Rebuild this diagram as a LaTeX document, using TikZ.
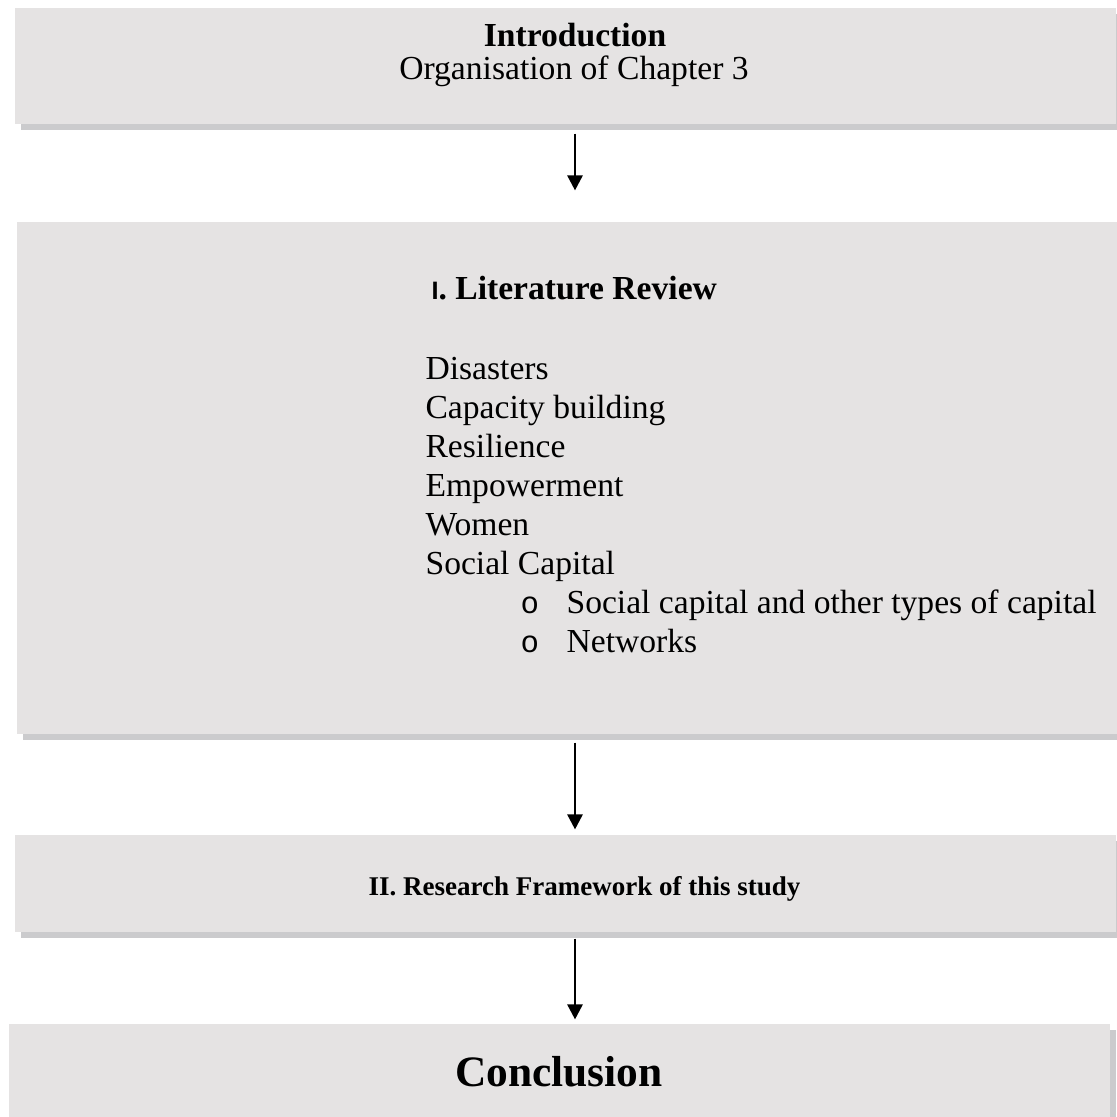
\documentclass[tikz,border=0pt]{standalone}
\usepackage{fontspec}
\setmainfont{Liberation Serif}
\newfontfamily\numfont{Liberation Sans}
\newfontfamily\bulletfont{Liberation Mono}
\usetikzlibrary{shadows,arrows.meta}
\newcommand\pxu{0.3571pt}
\definecolor{boxgray}{HTML}{E5E3E3}
\definecolor{shadowgray}{HTML}{CBCBCD}
\tikzset{
  panel/.style={draw=none, fill=boxgray, minimum width=1101*\pxu, inner sep=0pt,
    drop shadow={shadow xshift=6*\pxu, shadow yshift=-6*\pxu, fill=shadowgray, opacity=1}},
  txt/.style={anchor=base, inner sep=0pt, font=\fontsize{12pt}{13.9pt}\selectfont},
  btxt/.style={txt, font=\fontsize{12pt}{13.9pt}\selectfont\bfseries},
  item/.style={txt, anchor=base west},
  flow/.style={-{Triangle[length=15*\pxu, width=15*\pxu]}, line width=2.6*\pxu, black}
}
\begin{document}
\begin{tikzpicture}[x=\pxu, y=-\pxu]
\useasboundingbox (0,0) rectangle (1117,1117);
\clip (0,0) rectangle (1117,1117);

% panels
\node[panel, minimum height=116*\pxu] (intro) at (565.5,66) {};
\node[panel, minimum height=512*\pxu] (lit) at (567.5,478) {};
\node[panel, minimum height=97*\pxu] (frame) at (565.5,883.5) {};
\node[panel, minimum height=100*\pxu] (concl) at (559.5,1074) {};

% introduction
\node[btxt] (introtitle) at (575,47) {Introduction};
\node[txt] (introsub) at (574,80) {Organisation of Chapter 3};

% literature review
\node[btxt, anchor=base west] (littitle) at (431,299)
  {{\numfont\fontsize{9pt}{10pt}\selectfont I}. Literature Review};
\node[item] (i1) at (425,379) {Disasters};
\node[item] (i2) at (425,418) {Capacity building};
\node[item] (i3) at (425,457) {Resilience};
\node[item] (i4) at (425,496) {Empowerment};
\node[item] (i5) at (425,535) {Women};
\node[item] (i6) at (425,574) {Social Capital};
\node[item] (b1) at (520,613) {\bulletfont\fontsize{11pt}{12pt}\selectfont o};
\node[item] (s1) at (566,613) {Social capital and other types of capital};
\node[item] (b2) at (520,652) {\bulletfont\fontsize{11pt}{12pt}\selectfont o};
\node[item] (s2) at (566,652) {Networks};

% research framework
\node[btxt, anchor=base west, font=\fontsize{9.65pt}{12pt}\selectfont\bfseries] (frametitle) at (368,895)
  {II. Research Framework of this study};

% conclusion
\node[btxt, font=\fontsize{15.5pt}{18pt}\selectfont\bfseries] (concltitle) at (559,1086) {Conclusion};

% connectors
\coordinate (axis) at (575,0);
\draw[flow] ([yshift=-9*\pxu]intro.south -| axis) -- ([yshift=31*\pxu]lit.north -| axis);
\draw[flow] ([yshift=-8*\pxu]lit.south -| axis) -- ([yshift=5*\pxu]frame.north -| axis);
\draw[flow] ([yshift=-6*\pxu]frame.south -| axis) -- ([yshift=4*\pxu]concl.north -| axis);
\end{tikzpicture}
\end{document}
